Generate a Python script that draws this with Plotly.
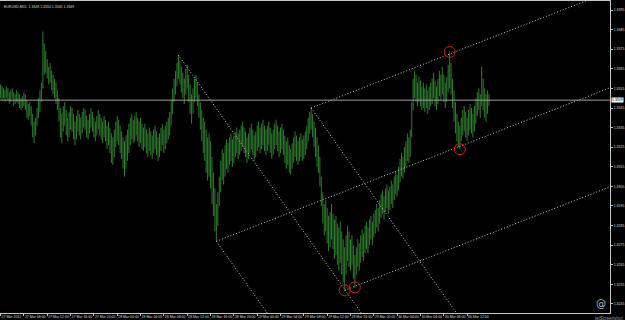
import plotly.graph_objects as go

# ---------------- data (pips above 1.3300) ----------------
high_pips = [
    57, 56, 55, 54, 56, 55, 53, 54, 55, 53, 52, 54, 53, 52, 50, 51,
    53, 52, 49, 47, 48, 46, 42, 38, 40, 45, 50, 54, 58, 84, 78, 74,
    70, 66, 68, 64, 62, 60, 58, 54, 50, 45, 42, 46, 48, 44, 40, 43,
    46, 45, 42, 38, 41, 44, 42, 40, 43, 45, 44, 41, 39, 42, 45, 43,
    40, 38, 41, 44, 42, 40, 38, 41, 39, 36, 38, 35, 32, 30, 34, 38,
    41, 39, 36, 33, 30, 28, 31, 34, 37, 40, 42, 39, 41, 43, 40, 38,
    40, 37, 35, 37, 34, 32, 35, 33, 31, 34, 36, 33, 30, 32, 35, 37,
    34, 36, 38, 40, 43, 49, 55, 60, 64, 68, 72, 69, 66, 63, 60, 65,
    67, 62, 57, 52, 55, 60, 62, 58, 52, 48, 44, 40, 38, 34, 30, 32,
    28, 20, 12, 4, -4, 2, 10, 18, 24, 22, 26, 29, 27, 30, 32, 29,
    31, 33, 35, 32, 34, 36, 38, 35, 33, 30, 32, 35, 37, 34, 31, 33,
    36, 38, 35, 37, 39, 36, 34, 36, 38, 35, 32, 34, 37, 39, 36, 33,
    35, 37, 34, 31, 28, 30, 26, 24, 27, 30, 33, 31, 28, 30, 32, 29,
    31, 33, 36, 40, 43, 45, 42, 38, 35, 30, 26, 20, 10, 2, -4, -2,
    -6, -10, -8, -4, -9, -12, -10, -14, -16, -13, -18, -22, -26, -20, -15, -18,
    -22, -20, -25, -30, -26, -22, -24, -20, -17, -19, -15, -13, -16, -12, -10, -13,
    -9, -7, -4, -6, -2, 1, 3, 0, 4, 6, 3, 5, 8, 6, 10, 13,
    11, 15, 19, 22, 20, 25, 28, 32, 30, 34, 48, 60, 64, 62, 58, 61,
    59, 56, 58, 55, 57, 54, 56, 58, 60, 63, 59, 56, 60, 64, 62, 66,
    62, 58, 61, 67, 74, 68, 60, 54, 48, 42, 38, 36, 40, 44, 46, 43,
    40, 44, 47, 45, 42, 46, 50, 53, 55, 52, 66, 60, 55, 52, 54, 52,
]
low_pips = [
    50, 49, 50, 48, 50, 49, 47, 48, 50, 46, 47, 48, 47, 45, 44, 45,
    46, 44, 40, 39, 41, 36, 30, 27, 31, 36, 40, 43, 48, 55, 62, 63,
    60, 57, 58, 54, 52, 50, 47, 44, 38, 30, 27, 33, 36, 31, 28, 30,
    34, 33, 29, 26, 29, 33, 31, 29, 32, 35, 34, 30, 29, 32, 35, 33,
    30, 28, 31, 34, 31, 29, 27, 30, 28, 24, 26, 22, 17, 16, 20, 25,
    28, 26, 22, 19, 14, 10, 14, 18, 22, 26, 29, 27, 28, 31, 28, 25,
    27, 24, 23, 25, 22, 20, 23, 21, 19, 22, 24, 21, 18, 20, 23, 26,
    22, 24, 27, 29, 31, 36, 42, 48, 52, 56, 60, 57, 53, 50, 47, 52,
    55, 48, 42, 37, 42, 48, 50, 46, 40, 34, 28, 22, 18, 12, 8, 10,
    4, -4, -10, -18, -23, -15, -5, 2, 8, 6, 10, 14, 12, 16, 18, 15,
    17, 20, 22, 19, 21, 23, 25, 22, 20, 17, 19, 22, 24, 21, 18, 20,
    23, 25, 22, 24, 26, 23, 21, 23, 26, 22, 19, 21, 24, 26, 23, 20,
    22, 24, 21, 17, 14, 16, 12, 11, 14, 17, 20, 18, 16, 18, 20, 18,
    19, 21, 24, 28, 32, 34, 30, 25, 20, 15, 12, 5, -5, -14, -20, -18,
    -24, -28, -26, -22, -27, -32, -30, -35, -38, -34, -40, -44, -48, -40, -33, -36,
    -38, -35, -42, -47, -40, -36, -38, -34, -31, -33, -29, -27, -29, -25, -22, -25,
    -21, -19, -16, -18, -14, -11, -9, -12, -8, -6, -9, -7, -4, -6, -2, 1,
    0, 3, 7, 10, 9, 12, 15, 18, 17, 20, 30, 44, 50, 48, 46, 48,
    46, 44, 45, 43, 45, 42, 44, 46, 47, 50, 46, 44, 47, 51, 49, 52,
    48, 45, 48, 53, 55, 52, 45, 38, 32, 28, 25, 24, 28, 31, 33, 30,
    28, 31, 34, 32, 30, 33, 37, 41, 44, 40, 46, 44, 40, 38, 42, 46,
]
BASE = 1.3300
PIP = 0.0001

x_tick_bars = [0, 16, 32, 48, 64, 80, 96, 112, 128, 144, 160, 176, 192, 208, 224, 240, 256, 272, 288, 304, 320]
x_tick_text = ["27 Mar 2012", "27 Mar 08:00", "27 Mar 12:00", "27 Mar 16:00", "27 Mar 20:00",
               "28 Mar 00:00", "28 Mar 04:00", "28 Mar 08:00", "28 Mar 12:00", "28 Mar 16:00",
               "28 Mar 20:00", "29 Mar 00:00", "29 Mar 04:00", "29 Mar 08:00", "29 Mar 12:00",
               "29 Mar 16:00", "29 Mar 20:00", "30 Mar 00:00", "30 Mar 04:00", "30 Mar 08:00",
               "30 Mar 12:00"]
y_tick_vals = [1.3395, 1.3385, 1.3375, 1.3365, 1.3355, 1.3345, 1.3335, 1.3325, 1.3315,
               1.3305, 1.3295, 1.3285, 1.3275, 1.3265, 1.3255, 1.3245]
y_tick_text = ["1.3395", "1.3385", "1.3375", "1.3365", "1.3355", "1.3345", "1.3335", "1.3325",
               "1.3315", "1.3305", "1.3295", "1.3285", "1.3275", "1.3265", "1.3255", "1.3245"]

current_price = 1.3349
title_text = "EURUSD,M15  1.3348 1.3350 1.3345 1.3349"

# pitchfork anchors (bar, pips)
desc_bars = [122, 148, 213]
desc_pips = [72, -23, 45]
asc_bars = [213, 148, 236]
asc_pips = [45, -23, -48]
desc_slope = -1.049   # pips per bar
asc_slope = 0.29      # pips per bar
line_len = 320        # bars to extend (clipped by axes)

# red circled touches (bar, pips)
circle_bars = [236, 243, 308, 315]
circle_pips = [-48, -46.5, 73.6, 24]

# ---------------- figure ----------------
fig = go.Figure()

bx, by = [], []
for i, (h, l) in enumerate(zip(high_pips, low_pips)):
    bx += [i, i, None]
    by += [BASE + l * PIP, BASE + h * PIP, None]
fig.add_trace(go.Scatter(x=bx, y=by, mode="lines",
                         line=dict(color="#358a35", width=0.9), hoverinfo="skip"))

lx, ly = [], []
for b, p in zip(desc_bars, desc_pips):
    lx += [b, b + line_len, None]
    ly += [BASE + p * PIP, BASE + (p + desc_slope * line_len) * PIP, None]
for b, p in zip(asc_bars, asc_pips):
    lx += [b, b + line_len, None]
    ly += [BASE + p * PIP, BASE + (p + asc_slope * line_len) * PIP, None]
fig.add_trace(go.Scatter(x=lx, y=ly, mode="lines",
                         line=dict(color="#c8c8c8", width=1, dash="1px,2px"), hoverinfo="skip"))

fig.add_trace(go.Scatter(x=circle_bars, y=[BASE + p * PIP for p in circle_pips], mode="markers",
                         marker=dict(symbol="circle-open", size=11, color="#d02020",
                                     line=dict(width=1, color="#d02020")), hoverinfo="skip"))

fig.add_hline(y=current_price, line=dict(color="#a0a0a0", width=1))

small = dict(family="Liberation Sans", size=3.5, color="#dcdcdc")

fig.add_annotation(x=0.003, y=0.995, xref="paper", yref="paper", xanchor="left", yanchor="top",
                   text=title_text, showarrow=False, font=small)
fig.add_annotation(x=1, y=current_price, xref="paper", yref="y", xanchor="left", yanchor="middle",
                   xshift=1, text="1.3349", showarrow=False, bgcolor="#ffffff",
                   font=dict(family="Liberation Sans", size=3.5, color="#000000"), borderpad=0)
fig.add_annotation(x=1.024, y=0, xref="paper", yref="paper", xanchor="right", yanchor="top",
                   yshift=-1, text="jetScreenshot", showarrow=False,
                   font=dict(family="Liberation Sans", size=4.5, color="#9a9a9a"))
fig.add_annotation(x=0.985, y=0, xref="paper", yref="paper", xanchor="center", yanchor="bottom",
                   yshift=2, text="@", showarrow=False,
                   font=dict(family="DejaVu Sans", size=10, color="#bdbdbd"))

fig.update_layout(
    width=625, height=320,
    margin=dict(l=0, r=15, t=1, b=7),
    paper_bgcolor="#000000", plot_bgcolor="#000000",
    showlegend=False,
    xaxis=dict(range=[-0.4, 418], tickvals=x_tick_bars, ticktext=x_tick_text, tickangle=0,
               ticklabelposition="outside right", ticks="outside", ticklen=2,
               tickcolor="#c8c8c8", tickfont=small, showgrid=False, zeroline=False,
               showline=True, linecolor="#c8c8c8", linewidth=1, mirror=True),
    yaxis=dict(range=[1.32404, 1.33996], side="right", tickvals=y_tick_vals, ticktext=y_tick_text,
               ticks="outside", ticklen=2, tickcolor="#c8c8c8", tickfont=small,
               showgrid=False, zeroline=False, showline=True, linecolor="#c8c8c8", linewidth=1),
)

fig.write_html("out.html")
